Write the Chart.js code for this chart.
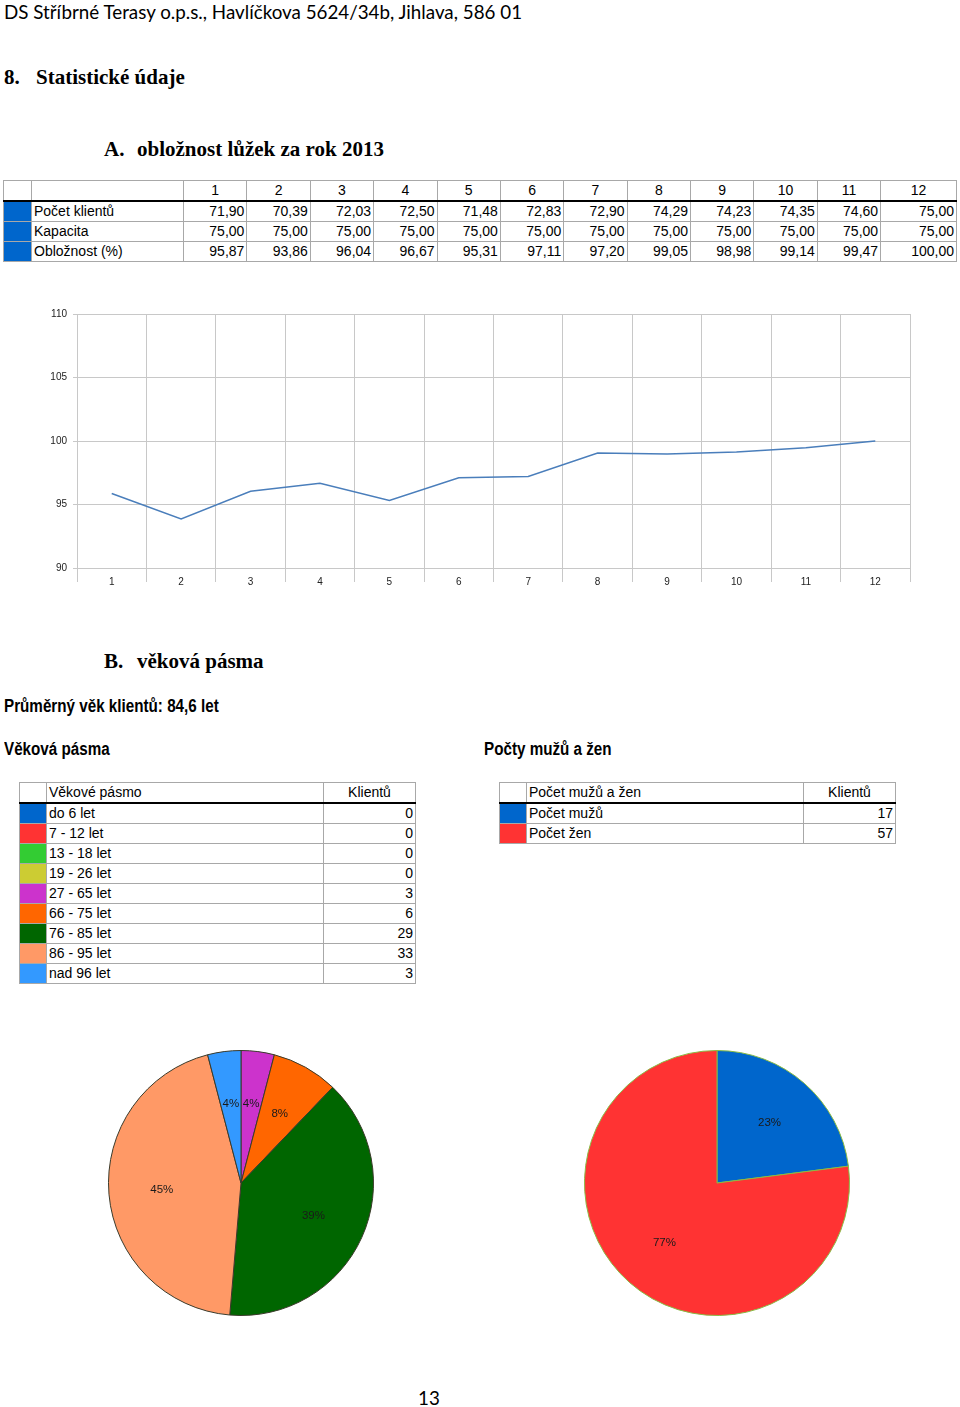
<!DOCTYPE html>
<html><head><meta charset="utf-8">
<script src="https://cdn.jsdelivr.net/npm/chart.js@4.4.1/dist/chart.umd.min.js"></script>
<style>
html,body{margin:0;padding:0;background:#fff;}
body{width:960px;height:1407px;position:relative;overflow:hidden;font-family:"Liberation Sans",Arial,sans-serif;color:#000;}
.abs{position:absolute;white-space:nowrap;}
.hdr{font-family:Lato,"Open Sans",sans-serif;font-size:18.8px;left:4px;top:0px;}
.serif{font-family:"Liberation Serif","Times New Roman",serif;font-weight:bold;font-size:21px;}
.sub{font-family:"Liberation Sans",Arial,sans-serif;font-weight:bold;font-size:18px;transform:scaleX(0.845);transform-origin:0 0;}
table{border-collapse:collapse;position:absolute;font-size:14px;}
td{border:1px solid #a8a8a8;padding:0 2px;height:19px;line-height:19px;}
td.n{text-align:right;}
td.h{text-align:center;}
tr.head td{border-bottom:2px solid #000;}
td.sw{padding:0;}
canvas{position:absolute;}
</style></head>
<body>
<div class="abs hdr">DS Stříbrné Terasy o.p.s., Havlíčkova 5624/34b, Jihlava, 586 01</div>
<div class="abs serif" style="left:4px;top:65px;">8.</div>
<div class="abs serif" style="left:36px;top:65px;">Statistické údaje</div>
<div class="abs serif" style="left:104px;top:137px;">A.</div>
<div class="abs serif" style="left:137px;top:137px;">obložnost lůžek za rok 2013</div>

<table id="occ" style="left:3px;top:180px;width:954px;"></table>

<canvas id="line" style="left:0px;top:300px;" width="920" height="295"></canvas>

<div class="abs serif" style="left:104px;top:649px;">B.</div>
<div class="abs serif" style="left:137px;top:649px;">věková pásma</div>
<div class="abs sub" style="left:4px;top:696px;">Průměrný věk klientů: 84,6 let</div>
<div class="abs sub" style="left:4px;top:739px;">Věková pásma</div>
<div class="abs sub" style="left:484px;top:739px;">Počty mužů a žen</div>

<table id="age" style="left:19px;top:782px;width:397px;"></table>
<table id="sex" style="left:499px;top:782px;width:397px;"></table>

<canvas id="pieAge" style="left:91px;top:1033px;" width="300" height="300"></canvas>
<canvas id="pieSex" style="left:567px;top:1033px;" width="300" height="300"></canvas>

<div class="abs" style="left:418px;top:1386px;font-family:Lato,sans-serif;font-size:18.8px;">13</div>

<script>
// ---- data ----
const months = ['1','2','3','4','5','6','7','8','9','10','11','12'];
const pocetKlientu = [71.90,70.39,72.03,72.50,71.48,72.83,72.90,74.29,74.23,74.35,74.60,75.00];
const kapacita = [75.00,75.00,75.00,75.00,75.00,75.00,75.00,75.00,75.00,75.00,75.00,75.00];
const obloznost = [95.87,93.86,96.04,96.67,95.31,97.11,97.20,99.05,98.98,99.14,99.47,100.00];
const yTicks = [90,95,100,105,110];

const ageBands = ['do 6 let','7 - 12 let','13 - 18 let','19 - 26 let','27 - 65 let','66 - 75 let','76 - 85 let','86 - 95 let','nad 96 let'];
const ageCounts = [0,0,0,0,3,6,29,33,3];
const ageColors = ['#0066cc','#ff3333','#33cc33','#cccc33','#cc33cc','#ff6600','#006600','#ff9966','#3399ff'];

const sexLabels = ['Počet mužů','Počet žen'];
const sexCounts = [17,57];
const sexColors = ['#0066cc','#ff3333'];

const fmt = v => v.toFixed(2).replace('.', ',');

// ---- tables ----
(function(){
  const t = document.getElementById('occ');
  let h = '<tr class="head"><td class="sw" style="width:27px"></td><td style="width:147px"></td>' + months.map(m=>'<td class="h">'+m+'</td>').join('') + '</tr>';
  const rows = [['Počet klientů',pocetKlientu],['Kapacita',kapacita],['Obložnost (%)',obloznost]];
  rows.forEach(r=>{
    h += '<tr><td class="sw" style="background:#0066cc"></td><td>'+r[0]+'</td>' + r[1].map(v=>'<td class="n">'+fmt(v)+'</td>').join('') + '</tr>';
  });
  t.innerHTML = h;

  const a = document.getElementById('age');
  let s = '<tr class="head"><td class="sw" style="width:26px"></td><td style="width:272px">Věkové pásmo</td><td class="h">Klientů</td></tr>';
  ageBands.forEach((b,i)=>{ s += '<tr><td class="sw" style="background:'+ageColors[i]+'"></td><td>'+b+'</td><td class="n">'+ageCounts[i]+'</td></tr>'; });
  a.innerHTML = s;

  const x = document.getElementById('sex');
  let q = '<tr class="head"><td class="sw" style="width:26px"></td><td style="width:272px">Počet mužů a žen</td><td class="h">Klientů</td></tr>';
  sexLabels.forEach((b,i)=>{ q += '<tr><td class="sw" style="background:'+sexColors[i]+'"></td><td>'+b+'</td><td class="n">'+sexCounts[i]+'</td></tr>'; });
  x.innerHTML = q;
})();

// ---- line chart ----
const gridC = '#c8c8c8';
new Chart(document.getElementById('line'), {
  type: 'line',
  data: { labels: months, datasets: [{ data: obloznost, borderColor: '#4a7ebb', borderWidth: 1.5, pointRadius: 0, tension: 0, fill: false }] },
  options: {
    responsive: false, animation: false, devicePixelRatio: 1,
    layout: { padding: { top: 14, right: 10, left: 0, bottom: 0 } },
    plugins: { legend: { display: false }, tooltip: { enabled: false } },
    scales: {
      x: {
        type: 'category', offset: true,
        grid: { offset: true, color: gridC, lineWidth: 1, tickLength: 14, drawTicks: true },
        border: { color: gridC },
        ticks: { font: { family: 'Liberation Sans', size: 10 }, color: '#222', padding: -6, maxRotation: 0 },
        afterFit: s => { s.height = 27; }
      },
      y: {
        min: 90, max: 110,
        afterBuildTicks: s => { s.ticks = yTicks.map(v => ({ value: v })); },
        grid: { color: gridC, lineWidth: 1, tickLength: 4 },
        border: { color: gridC },
        ticks: { font: { family: 'Liberation Sans', size: 10 }, color: '#222', padding: 6 },
        afterFit: s => { s.width = 77; }
      }
    }
  }
});

// ---- pies ----
const pctPlugin = {
  id: 'pct',
  afterDatasetsDraw(chart) {
    const ctx = chart.ctx;
    const ds = chart.data.datasets[0];
    const total = ds.data.reduce((a,b)=>a+b,0);
    chart.getDatasetMeta(0).data.forEach((arc,i)=>{
      const v = ds.data[i];
      if (!v) return;
      const p = arc.getProps(['x','y','startAngle','endAngle','outerRadius'], true);
      const mid = (p.startAngle + p.endAngle)/2;
      const r = p.outerRadius * 0.6;
      ctx.save();
      ctx.font = '11.5px "Liberation Sans", Arial, sans-serif';
      ctx.fillStyle = '#1a1a1a';
      ctx.textAlign = 'center'; ctx.textBaseline = 'middle';
      ctx.fillText(Math.round(v/total*100) + '%', p.x + Math.cos(mid)*r, p.y + Math.sin(mid)*r);
      ctx.restore();
    });
  }
};
function pie(id, labels, data, colors, border) {
  new Chart(document.getElementById(id), {
    type: 'pie',
    data: { labels, datasets: [{ data, backgroundColor: colors, borderColor: border, borderWidth: 1 }] },
    options: {
      responsive: false, animation: false, devicePixelRatio: 1,
      layout: { padding: 17 },
      plugins: { legend: { display: false }, tooltip: { enabled: false } }
    },
    plugins: [pctPlugin]
  });
}
pie('pieAge', ageBands, ageCounts, ageColors, '#3a3a2a');
pie('pieSex', sexLabels, sexCounts, sexColors, '#88bb44');
</script>
</body></html>
